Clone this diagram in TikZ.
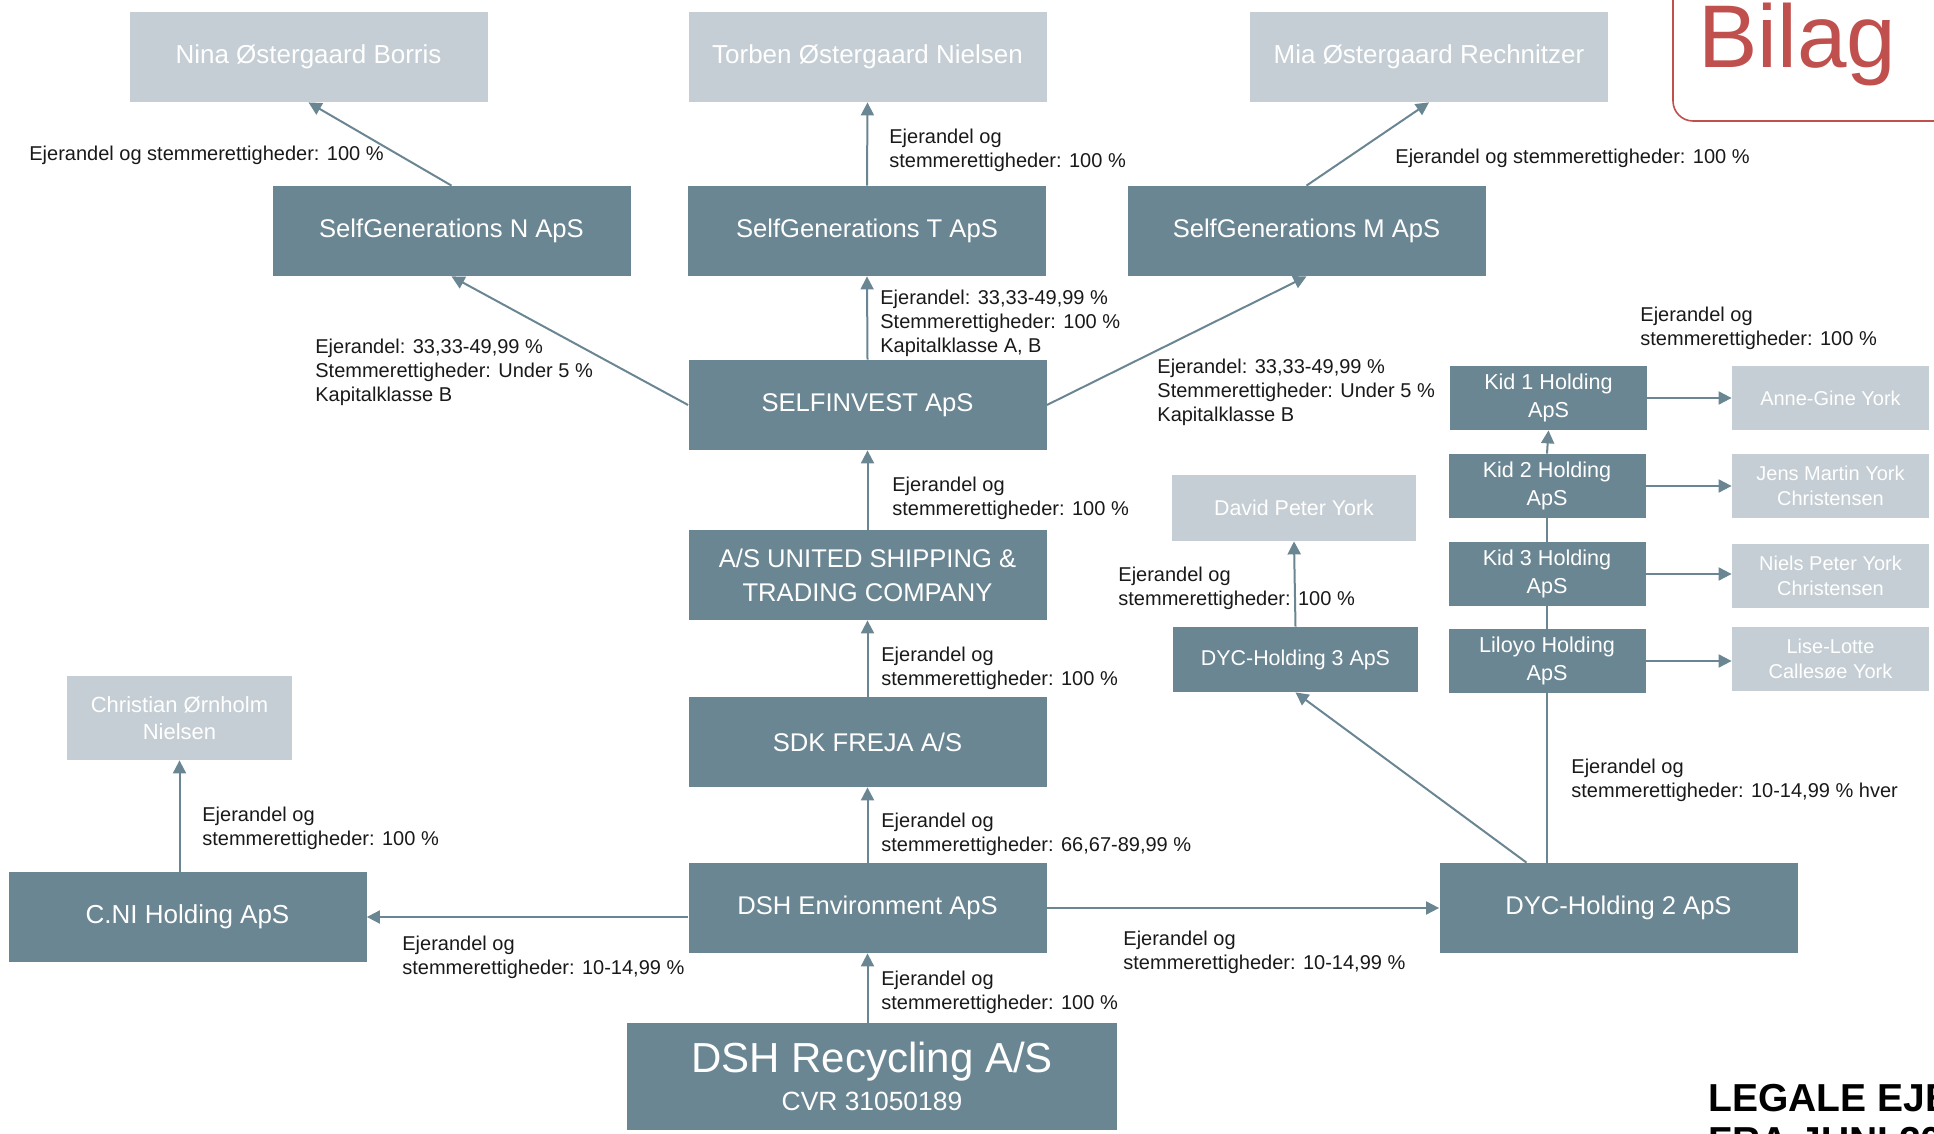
\documentclass[tikz,border=0pt]{standalone}
\usepackage{fontspec}
\setmainfont{Liberation Sans}
\usetikzlibrary{arrows.meta}

\definecolor{boxdark}{RGB}{106,134,146}
\definecolor{boxlight}{RGB}{197,206,212}
\definecolor{bilagred}{RGB}{192,80,77}

\tikzset{
    company/.style={fill=boxdark, text=white, inner sep=0pt, align=center,
        minimum width=179pt, minimum height=45pt, font=\fontsize{12.8}{17}\selectfont},
    owner/.style={fill=boxlight, text=white, inner sep=0pt, align=center,
        minimum width=179pt, minimum height=45pt, font=\fontsize{13}{16}\selectfont},
    kidbox/.style={minimum width=98.5pt, minimum height=32pt, font=\fontsize{10.8}{14}\selectfont},
    share/.style={draw=boxdark, line width=1pt, -{Triangle[length=6.5pt,width=6.5pt]}},
    link/.style={draw=boxdark, line width=1pt},
    pct/.style={anchor=west, align=left, inner sep=0pt, text=black!90,
        font=\fontsize{10}{12}\selectfont}
}

\begin{document}
\begin{tikzpicture}[x=0.5pt, y=-0.5pt]
    \useasboundingbox (0,0) rectangle (1934,1134);
    \clip (0,0) rectangle (1934,1134);

    % Bilag tag, top right
    \draw[bilagred, line width=0.8pt, rounded corners=10pt] (1673,-20) -- (1673,121) -- (1990,121);
    \node[anchor=base west, inner sep=0pt, text=bilagred, font=\fontsize{44.5}{44.5}\selectfont] (bilag) at (1698,68) {Bilag};

    % Persons at the top
    \node[owner] (nina) at (308.5,57) {Nina Østergaard Borris};
    \node[owner] (torben) at (867.5,57) {Torben Østergaard Nielsen};
    \node[owner] (mia) at (1429,57) {Mia Østergaard Rechnitzer};

    % Main chain
    \node[company] (sgn) at (451.5,231) {SelfGenerations N ApS};
    \node[company] (sgt) at (867,231) {SelfGenerations T ApS};
    \node[company] (sgm) at (1306.5,231) {SelfGenerations M ApS};
    \node[company] (selfinvest) at (867.5,405) {SELFINVEST ApS};
    \node[company] (usc) at (867.5,575) {A/S UNITED SHIPPING \&\\TRADING COMPANY};
    \node[company] (freja) at (867.5,742) {SDK FREJA A/S};
    \node[company] (dshenv) at (867.5,908) {DSH Environment ApS};
    \node[company, minimum width=245pt, minimum height=53.5pt, font=\fontsize{13.2}{19}\selectfont]
        (dshrec) at (872,1076.5) {{\fontsize{21}{19}\selectfont DSH Recycling A/S}\\CVR 31050189};

    % Left branch
    \node[company, font=\fontsize{13}{16}\selectfont] (cni) at (187.5,917) {C.NI Holding ApS};
    \node[owner, minimum width=112.5pt, minimum height=42pt, font=\fontsize{11}{13.5}\selectfont]
        (christian) at (179.5,718) {Christian Ørnholm\\Nielsen};

    % Right branch
    \node[company] (dyc2) at (1618.5,908) {DYC-Holding 2 ApS};
    \node[company, minimum width=122.5pt, minimum height=32.5pt, font=\fontsize{10.7}{12}\selectfont]
        (dyc3) at (1295.5,659.5) {DYC-Holding 3 ApS};
    \node[owner, minimum width=122pt, minimum height=33pt, font=\fontsize{10.7}{12}\selectfont]
        (david) at (1294,508) {David Peter York};

    \node[company, kidbox] (kid1) at (1548.5,398) {Kid 1 Holding\\ApS};
    \node[company, kidbox] (kid2) at (1547,486) {Kid 2 Holding\\ApS};
    \node[company, kidbox] (kid3) at (1547,574) {Kid 3 Holding\\ApS};
    \node[company, kidbox] (liloyo) at (1547,661) {Liloyo Holding\\ApS};

    \node[owner, kidbox, font=\fontsize{10}{12.5}\selectfont] (anne) at (1830.5,398) {Anne-Gine York};
    \node[owner, kidbox, font=\fontsize{10}{12.5}\selectfont] (jens) at (1830.5,486) {Jens Martin York\\Christensen};
    \node[owner, kidbox, font=\fontsize{10}{12.5}\selectfont] (niels) at (1830.5,576) {Niels Peter York\\Christensen};
    \node[owner, kidbox, font=\fontsize{10}{12.5}\selectfont] (lise) at (1830.5,659) {Lise-Lotte\\Callesøe York};

    % Ownership arrows
    \draw[share] (sgn.north) -- (nina.south);
    \draw[share] (sgt.north) -- (torben.south);
    \draw[share] (sgm.north) -- (mia.south);
    \draw[share] (selfinvest.west) -- (sgn.south);
    \draw[share] (selfinvest.north) -- (sgt.south);
    \draw[share] (selfinvest.east) -- (sgm.south);
    \draw[share] (usc.north) -- (selfinvest.south);
    \draw[share] (freja.north) -- (usc.south);
    \draw[share] (dshenv.north) -- (freja.south);
    \draw[share] (dshenv.south |- dshrec.north) -- (dshenv.south);
    \draw[share] (dshenv.west |- cni.east) -- (cni.east);
    \draw[share] (dshenv.east) -- (dyc2.west);
    \draw[share] (christian.south |- cni.north) -- (christian.south);
    \draw[share] ([xshift=-46pt]dyc2.north) -- (dyc3.south);
    \draw[share] (dyc3.north) -- (david.south);
    \draw[link] (liloyo.south |- dyc2.north) -- (liloyo.south);
    \draw[link] (liloyo.north) -- (kid3.south);
    \draw[link] (kid3.north) -- (kid2.south);
    \draw[share] (kid2.north) -- (kid1.south);
    \foreach \k/\p in {kid1/anne, kid2/jens, kid3/niels, liloyo/lise} {
        \draw[share] (\k.east) -- (\k.east -| \p.west);
    }

    % Percentages
    \node[pct] (lbnina) at (29,155) {Ejerandel og stemmerettigheder: 100 \%};
    \node[pct] (lbtorben) at (889,150) {Ejerandel og\\stemmerettigheder: 100 \%};
    \node[pct] (lbmia) at (1395,158) {Ejerandel og stemmerettigheder: 100 \%};
    \node[pct] (lbsgn) at (315,372.5) {Ejerandel: 33,33-49,99 \%\\Stemmerettigheder: Under 5 \%\\Kapitalklasse B};
    \node[pct] (lbsgt) at (880,323) {Ejerandel: 33,33-49,99 \%\\Stemmerettigheder: 100 \%\\Kapitalklasse A, B};
    \node[pct] (lbsgm) at (1157,392) {Ejerandel: 33,33-49,99 \%\\Stemmerettigheder: Under 5 \%\\Kapitalklasse B};
    \node[pct] (lbselfinvest) at (892,498) {Ejerandel og\\stemmerettigheder: 100 \%};
    \node[pct] (lbusc) at (881,668) {Ejerandel og\\stemmerettigheder: 100 \%};
    \node[pct] (lbfreja) at (881,834) {Ejerandel og\\stemmerettigheder: 66,67-89,99 \%};
    \node[pct] (lbdshenv) at (881,992) {Ejerandel og\\stemmerettigheder: 100 \%};
    \node[pct] (lbcni) at (402,957) {Ejerandel og\\stemmerettigheder: 10-14,99 \%};
    \node[pct] (lbdyc2) at (1123,952) {Ejerandel og\\stemmerettigheder: 10-14,99 \%};
    \node[pct] (lbchristian) at (202,828) {Ejerandel og\\stemmerettigheder: 100 \%};
    \node[pct] (lbdavid) at (1118,588) {Ejerandel og\\stemmerettigheder: 100 \%};
    \node[pct] (lbkids) at (1640,328) {Ejerandel og\\stemmerettigheder: 100 \%};
    \node[pct] (lbhver) at (1571,780) {Ejerandel og\\stemmerettigheder: 10-14,99 \% hver};

    % Title, bottom right
    \node[anchor=base west, inner sep=0pt, font=\bfseries\fontsize{19.5}{21.5}\selectfont] (legale) at (1708,1111) {LEGALE EJER};
    \node[anchor=base west, inner sep=0pt, font=\bfseries\fontsize{19.5}{21.5}\selectfont] (frajuni) at (1708,1154) {FRA JUNI 20};
\end{tikzpicture}
\end{document}
